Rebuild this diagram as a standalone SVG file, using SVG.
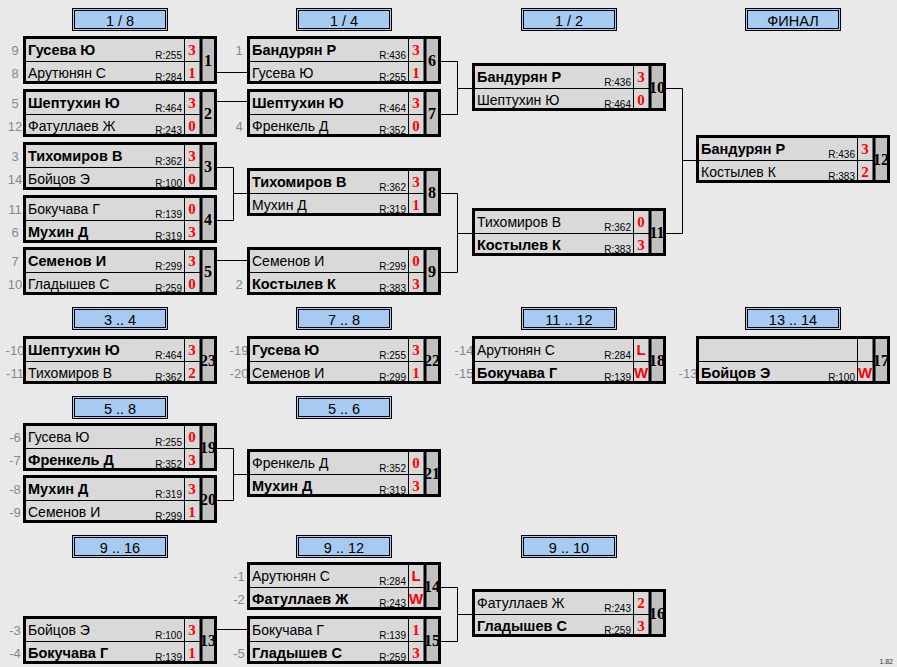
<svg xmlns="http://www.w3.org/2000/svg" xmlns:xlink="http://www.w3.org/1999/xlink" width="897" height="667" viewBox="0 0 897 667">
<style>
.sd{font-family:"Liberation Sans",Arial,sans-serif;font-size:13px;fill:#888;text-anchor:middle}
.nm{font-family:"Liberation Sans",Arial,sans-serif;font-size:14px;fill:#000}
.b{font-weight:bold;font-size:14.5px}
.rt{font-family:"Liberation Sans",Arial,sans-serif;font-size:10px;fill:#000;text-anchor:end}
.sc{font-family:"Liberation Serif","Times New Roman",serif;font-weight:bold;font-size:15px;fill:#f00;text-anchor:middle}
.wl{font-family:"Liberation Sans",Arial,sans-serif;font-weight:bold;font-size:15px;fill:#f00;text-anchor:middle}
.no{font-family:"Liberation Serif","Times New Roman",serif;font-weight:bold;font-size:16px;fill:#000;text-anchor:middle}
.ht{font-family:"Liberation Sans",Arial,sans-serif;font-size:14.5px;fill:#000;text-anchor:middle}
.cn{fill:none;stroke:#000;stroke-width:1}
</style>
<defs>
<g id="frame">
<rect x="0" y="0" width="194" height="48" fill="#d9d9d9"/>
<rect x="178" y="0" width="16" height="48" fill="#c0c0c0"/>
<path d="M0 25.5H178M161.5 3V45" stroke="#000" stroke-width="1" fill="none"/>
<path d="M178 3V45" stroke="#000" stroke-width="3" fill="none"/>
<rect x="1.5" y="1.5" width="191" height="45" fill="none" stroke="#000" stroke-width="3"/>
</g>
<g id="hbox">
<rect x="0.5" y="0.5" width="95" height="22" fill="#a6caf0" stroke="#000" stroke-width="1"/>
<rect x="2.5" y="2.5" width="91" height="18" fill="none" stroke="#000" stroke-width="1"/>
</g>
</defs>
<rect x="0" y="0" width="897" height="667" fill="#e9e9e9"/>

<g id="headers">
<g id="h1" transform="translate(72,8)"><use href="#hbox"/><text class="ht" x="48" y="18">1 / 8</text></g>
<g id="h2" transform="translate(296,8)"><use href="#hbox"/><text class="ht" x="48" y="18">1 / 4</text></g>
<g id="h3" transform="translate(521,8)"><use href="#hbox"/><text class="ht" x="48" y="18">1 / 2</text></g>
<g id="h4" transform="translate(745,8)"><use href="#hbox"/><text class="ht" x="48" y="18">ФИНАЛ</text></g>
<g id="h5" transform="translate(72,307)"><use href="#hbox"/><text class="ht" x="48" y="18">3 .. 4</text></g>
<g id="h6" transform="translate(296,307)"><use href="#hbox"/><text class="ht" x="48" y="18">7 .. 8</text></g>
<g id="h7" transform="translate(521,307)"><use href="#hbox"/><text class="ht" x="48" y="18">11 .. 12</text></g>
<g id="h8" transform="translate(745,307)"><use href="#hbox"/><text class="ht" x="48" y="18">13 .. 14</text></g>
<g id="h9" transform="translate(72,396)"><use href="#hbox"/><text class="ht" x="48" y="18">5 .. 8</text></g>
<g id="h10" transform="translate(296,396)"><use href="#hbox"/><text class="ht" x="48" y="18">5 .. 6</text></g>
<g id="h11" transform="translate(72,535)"><use href="#hbox"/><text class="ht" x="48" y="18">9 .. 16</text></g>
<g id="h12" transform="translate(296,535)"><use href="#hbox"/><text class="ht" x="48" y="18">9 .. 12</text></g>
<g id="h13" transform="translate(521,535)"><use href="#hbox"/><text class="ht" x="48" y="18">9 .. 10</text></g>
</g>

<g id="connectors">
<path class="cn" d="M217 72.5H247"/>
<path class="cn" d="M217 101.5H247"/>
<path class="cn" d="M217 167.5H233.5V220.5H217M233.5 193.5H247"/>
<path class="cn" d="M217 260.5H247"/>
<path class="cn" d="M441 61.5H457.5V114.5H441M457.5 88.5H472"/>
<path class="cn" d="M441 193.5H457.5V272.5H441M457.5 233.5H472"/>
<path class="cn" d="M666 88.5H682.5V233.5H666M682.5 160.5H696"/>
<path class="cn" d="M217 448.5H233.5V500.5H217M233.5 474.5H247"/>
<path class="cn" d="M217 629.5H247"/>
<path class="cn" d="M441 587.5H457.5V641.5H441M457.5 614.5H472"/>
</g>

<g id="m1" transform="translate(23,36)">
<text class="sd" x="-8" y="19">9</text><text class="sd" x="-8" y="42">8</text>
<use href="#frame"/>
<text class="nm b" x="5" y="19">Гусева Ю</text><text class="rt" x="159" y="23">R:255</text><text class="sc" x="169" y="19">3</text>
<text class="nm" x="5" y="42">Арутюнян С</text><text class="rt" x="159" y="45">R:284</text><text class="sc" x="169" y="42">1</text>
<text class="no" x="185" y="30">1</text>
</g>
<g id="m2" transform="translate(23,89)">
<text class="sd" x="-8" y="19">5</text><text class="sd" x="-8" y="42">12</text>
<use href="#frame"/>
<text class="nm b" x="5" y="19">Шептухин Ю</text><text class="rt" x="159" y="23">R:464</text><text class="sc" x="169" y="19">3</text>
<text class="nm" x="5" y="42">Фатуллаев Ж</text><text class="rt" x="159" y="45">R:243</text><text class="sc" x="169" y="42">0</text>
<text class="no" x="185" y="30">2</text>
</g>
<g id="m3" transform="translate(23,142)">
<text class="sd" x="-8" y="19">3</text><text class="sd" x="-8" y="42">14</text>
<use href="#frame"/>
<text class="nm b" x="5" y="19">Тихомиров В</text><text class="rt" x="159" y="23">R:362</text><text class="sc" x="169" y="19">3</text>
<text class="nm" x="5" y="42">Бойцов Э</text><text class="rt" x="159" y="45">R:100</text><text class="sc" x="169" y="42">0</text>
<text class="no" x="185" y="30">3</text>
</g>
<g id="m4" transform="translate(23,195)">
<text class="sd" x="-8" y="19">11</text><text class="sd" x="-8" y="42">6</text>
<use href="#frame"/>
<text class="nm" x="5" y="19">Бокучава Г</text><text class="rt" x="159" y="23">R:139</text><text class="sc" x="169" y="19">0</text>
<text class="nm b" x="5" y="42">Мухин Д</text><text class="rt" x="159" y="45">R:319</text><text class="sc" x="169" y="42">3</text>
<text class="no" x="185" y="30">4</text>
</g>
<g id="m5" transform="translate(23,247)">
<text class="sd" x="-8" y="19">7</text><text class="sd" x="-8" y="42">10</text>
<use href="#frame"/>
<text class="nm b" x="5" y="19">Семенов И</text><text class="rt" x="159" y="23">R:299</text><text class="sc" x="169" y="19">3</text>
<text class="nm" x="5" y="42">Гладышев С</text><text class="rt" x="159" y="45">R:259</text><text class="sc" x="169" y="42">0</text>
<text class="no" x="185" y="30">5</text>
</g>
<g id="m6" transform="translate(247,36)">
<text class="sd" x="-8" y="19">1</text>
<use href="#frame"/>
<text class="nm b" x="5" y="19">Бандурян Р</text><text class="rt" x="159" y="23">R:436</text><text class="sc" x="169" y="19">3</text>
<text class="nm" x="5" y="42">Гусева Ю</text><text class="rt" x="159" y="45">R:255</text><text class="sc" x="169" y="42">1</text>
<text class="no" x="185" y="30">6</text>
</g>
<g id="m7" transform="translate(247,89)">
<text class="sd" x="-8" y="42">4</text>
<use href="#frame"/>
<text class="nm b" x="5" y="19">Шептухин Ю</text><text class="rt" x="159" y="23">R:464</text><text class="sc" x="169" y="19">3</text>
<text class="nm" x="5" y="42">Френкель Д</text><text class="rt" x="159" y="45">R:352</text><text class="sc" x="169" y="42">0</text>
<text class="no" x="185" y="30">7</text>
</g>
<g id="m8" transform="translate(247,168)">
<use href="#frame"/>
<text class="nm b" x="5" y="19">Тихомиров В</text><text class="rt" x="159" y="23">R:362</text><text class="sc" x="169" y="19">3</text>
<text class="nm" x="5" y="42">Мухин Д</text><text class="rt" x="159" y="45">R:319</text><text class="sc" x="169" y="42">1</text>
<text class="no" x="185" y="30">8</text>
</g>
<g id="m9" transform="translate(247,247)">
<text class="sd" x="-8" y="42">2</text>
<use href="#frame"/>
<text class="nm" x="5" y="19">Семенов И</text><text class="rt" x="159" y="23">R:299</text><text class="sc" x="169" y="19">0</text>
<text class="nm b" x="5" y="42">Костылев К</text><text class="rt" x="159" y="45">R:383</text><text class="sc" x="169" y="42">3</text>
<text class="no" x="185" y="30">9</text>
</g>
<g id="m10" transform="translate(472,63)">
<use href="#frame"/>
<text class="nm b" x="5" y="19">Бандурян Р</text><text class="rt" x="159" y="23">R:436</text><text class="sc" x="169" y="19">3</text>
<text class="nm" x="5" y="42">Шептухин Ю</text><text class="rt" x="159" y="45">R:464</text><text class="sc" x="169" y="42">0</text>
<text class="no" x="185" y="30">10</text>
</g>
<g id="m11" transform="translate(472,208)">
<use href="#frame"/>
<text class="nm" x="5" y="19">Тихомиров В</text><text class="rt" x="159" y="23">R:362</text><text class="sc" x="169" y="19">0</text>
<text class="nm b" x="5" y="42">Костылев К</text><text class="rt" x="159" y="45">R:383</text><text class="sc" x="169" y="42">3</text>
<text class="no" x="185" y="30">11</text>
</g>
<g id="m12" transform="translate(696,135)">
<use href="#frame"/>
<text class="nm b" x="5" y="19">Бандурян Р</text><text class="rt" x="159" y="23">R:436</text><text class="sc" x="169" y="19">3</text>
<text class="nm" x="5" y="42">Костылев К</text><text class="rt" x="159" y="45">R:383</text><text class="sc" x="169" y="42">2</text>
<text class="no" x="185" y="30">12</text>
</g>

<g id="m23" transform="translate(23,336)">
<text class="sd" x="-8" y="19">-10</text><text class="sd" x="-8" y="42">-11</text>
<use href="#frame"/>
<text class="nm b" x="5" y="19">Шептухин Ю</text><text class="rt" x="159" y="23">R:464</text><text class="sc" x="169" y="19">3</text>
<text class="nm" x="5" y="42">Тихомиров В</text><text class="rt" x="159" y="45">R:362</text><text class="sc" x="169" y="42">2</text>
<text class="no" x="185" y="30">23</text>
</g>
<g id="m22" transform="translate(247,336)">
<text class="sd" x="-8" y="19">-19</text><text class="sd" x="-8" y="42">-20</text>
<use href="#frame"/>
<text class="nm b" x="5" y="19">Гусева Ю</text><text class="rt" x="159" y="23">R:255</text><text class="sc" x="169" y="19">3</text>
<text class="nm" x="5" y="42">Семенов И</text><text class="rt" x="159" y="45">R:299</text><text class="sc" x="169" y="42">1</text>
<text class="no" x="185" y="30">22</text>
</g>
<g id="m18" transform="translate(472,336)">
<text class="sd" x="-8" y="19">-14</text><text class="sd" x="-8" y="42">-15</text>
<use href="#frame"/>
<text class="nm" x="5" y="19">Арутюнян С</text><text class="rt" x="159" y="23">R:284</text><text class="wl" x="169" y="19">L</text>
<text class="nm b" x="5" y="42">Бокучава Г</text><text class="rt" x="159" y="45">R:139</text><text class="wl" x="169" y="42">W</text>
<text class="no" x="185" y="30">18</text>
</g>
<g id="m17" transform="translate(696,336)">
<text class="sd" x="-8" y="42">-13</text>
<use href="#frame"/>
<text class="nm b" x="5" y="42">Бойцов Э</text><text class="rt" x="159" y="45">R:100</text><text class="wl" x="169" y="42">W</text>
<text class="no" x="185" y="30">17</text>
</g>
<g id="m19" transform="translate(23,423)">
<text class="sd" x="-8" y="19">-6</text><text class="sd" x="-8" y="42">-7</text>
<use href="#frame"/>
<text class="nm" x="5" y="19">Гусева Ю</text><text class="rt" x="159" y="23">R:255</text><text class="sc" x="169" y="19">0</text>
<text class="nm b" x="5" y="42">Френкель Д</text><text class="rt" x="159" y="45">R:352</text><text class="sc" x="169" y="42">3</text>
<text class="no" x="185" y="30">19</text>
</g>
<g id="m20" transform="translate(23,475)">
<text class="sd" x="-8" y="19">-8</text><text class="sd" x="-8" y="42">-9</text>
<use href="#frame"/>
<text class="nm b" x="5" y="19">Мухин Д</text><text class="rt" x="159" y="23">R:319</text><text class="sc" x="169" y="19">3</text>
<text class="nm" x="5" y="42">Семенов И</text><text class="rt" x="159" y="45">R:299</text><text class="sc" x="169" y="42">1</text>
<text class="no" x="185" y="30">20</text>
</g>
<g id="m21" transform="translate(247,449)">
<use href="#frame"/>
<text class="nm" x="5" y="19">Френкель Д</text><text class="rt" x="159" y="23">R:352</text><text class="sc" x="169" y="19">0</text>
<text class="nm b" x="5" y="42">Мухин Д</text><text class="rt" x="159" y="45">R:319</text><text class="sc" x="169" y="42">3</text>
<text class="no" x="185" y="30">21</text>
</g>

<g id="m14" transform="translate(247,562)">
<text class="sd" x="-8" y="19">-1</text><text class="sd" x="-8" y="42">-2</text>
<use href="#frame"/>
<text class="nm" x="5" y="19">Арутюнян С</text><text class="rt" x="159" y="23">R:284</text><text class="wl" x="169" y="19">L</text>
<text class="nm b" x="5" y="42">Фатуллаев Ж</text><text class="rt" x="159" y="45">R:243</text><text class="wl" x="169" y="42">W</text>
<text class="no" x="185" y="30">14</text>
</g>
<g id="m13" transform="translate(23,616)">
<text class="sd" x="-8" y="19">-3</text><text class="sd" x="-8" y="42">-4</text>
<use href="#frame"/>
<text class="nm" x="5" y="19">Бойцов Э</text><text class="rt" x="159" y="23">R:100</text><text class="sc" x="169" y="19">3</text>
<text class="nm b" x="5" y="42">Бокучава Г</text><text class="rt" x="159" y="45">R:139</text><text class="sc" x="169" y="42">1</text>
<text class="no" x="185" y="30">13</text>
</g>
<g id="m15" transform="translate(247,616)">
<text class="sd" x="-8" y="42">-5</text>
<use href="#frame"/>
<text class="nm" x="5" y="19">Бокучава Г</text><text class="rt" x="159" y="23">R:139</text><text class="sc" x="169" y="19">1</text>
<text class="nm b" x="5" y="42">Гладышев С</text><text class="rt" x="159" y="45">R:259</text><text class="sc" x="169" y="42">3</text>
<text class="no" x="185" y="30">15</text>
</g>
<g id="m16" transform="translate(472,589)">
<use href="#frame"/>
<text class="nm" x="5" y="19">Фатуллаев Ж</text><text class="rt" x="159" y="23">R:243</text><text class="sc" x="169" y="19">2</text>
<text class="nm b" x="5" y="42">Гладышев С</text><text class="rt" x="159" y="45">R:259</text><text class="sc" x="169" y="42">3</text>
<text class="no" x="185" y="30">16</text>
</g>

<text x="893" y="663.5" font-family="Liberation Sans, Arial, sans-serif" font-size="7" fill="#333" text-anchor="end">1.82</text>
</svg>
